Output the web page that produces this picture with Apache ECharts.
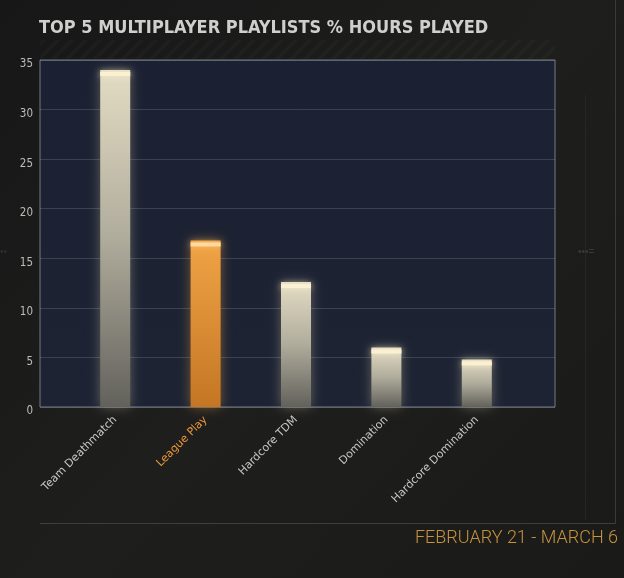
<!DOCTYPE html>
<html><head><meta charset="utf-8">
<script src="https://cdn.jsdelivr.net/npm/echarts@6/dist/echarts.min.js"></script>
<style>
html,body{margin:0;padding:0;background:#1b1b1b;}
#c{width:624px;height:578px;}
</style></head>
<body><div id="c"></div>
<script>
const titleText = 'TOP 5 MULTIPLAYER PLAYLISTS % HOURS PLAYED';
const dateText = 'FEBRUARY 21 - MARCH 6';
const categories = ['Team Deathmatch', 'League Play', 'Hardcore TDM', 'Domination', 'Hardcore Domination'];
const hoursPct = [34.0, 16.8, 12.6, 6.0, 4.8];
const highlighted = 'League Play';
const yTicks = { min: 0, max: 35, interval: 5 };

const chart = echarts.init(document.getElementById('c'), null, {renderer: 'canvas'});

// stripe pattern under title
const pc = document.createElement('canvas');
pc.width = 14; pc.height = 14;
const pctx = pc.getContext('2d');
pctx.strokeStyle = 'rgba(255,255,255,0.025)';
pctx.lineWidth = 4;
pctx.beginPath();
pctx.moveTo(0, 14); pctx.lineTo(14, 0);
pctx.moveTo(-7, 7); pctx.lineTo(7, -7);
pctx.moveTo(7, 21); pctx.lineTo(21, 7);
pctx.stroke();

const greyGrad = new echarts.graphic.LinearGradient(0, 0, 0, 1, [
  {offset: 0, color: '#e3dcc4'},
  {offset: 0.5, color: '#b0ac9c'},
  {offset: 1, color: '#62615b'}
]);
const orangeGrad = new echarts.graphic.LinearGradient(0, 0, 0, 1, [
  {offset: 0, color: '#f0a445'},
  {offset: 1, color: '#c47624'}
]);

const barData = hoursPct.map((v, i) => ({
  value: v,
  itemStyle: categories[i] === highlighted
    ? {color: orangeGrad, shadowColor: 'rgba(240,160,60,0.45)', shadowBlur: 12}
    : {color: greyGrad, shadowColor: 'rgba(230,220,180,0.35)', shadowBlur: 12}
}));
const capData = hoursPct.map((v, i) => ({
  value: v,
  itemStyle: categories[i] === highlighted
    ? {color: '#ffd9a0', shadowColor: 'rgba(255,200,120,0.8)', shadowBlur: 6}
    : {color: '#fbf1d2', shadowColor: 'rgba(255,240,200,0.8)', shadowBlur: 6}
}));

chart.setOption({
  backgroundColor: new echarts.graphic.LinearGradient(0, 0, 1, 1, [
    {offset: 0, color: '#171717'},
    {offset: 0.5, color: '#1e1e1d'},
    {offset: 1, color: '#1a1a19'}
  ]),
  animation: false,
  graphic: [
    {type: 'rect', shape: {x: 40, y: 40, width: 515, height: 19}, style: {fill: {image: pc, repeat: 'repeat'}}, z: 0},
    {type: 'text', left: 39, top: 19, style: {text: titleText, fill: '#cfcfcd', font: 'bold 18px "DejaVu Sans Condensed", "DejaVu Sans", sans-serif'}},
    {type: 'text', right: 6, top: 529, style: {text: dateText, fill: '#c8923e', font: '300 18px Roboto, "DejaVu Sans", sans-serif'}},
    {type: 'line', shape: {x1: 40, y1: 523.5, x2: 615.5, y2: 523.5}, style: {stroke: '#3e3e3e', lineWidth: 1}},
    {type: 'line', shape: {x1: 615.5, y1: 0, x2: 615.5, y2: 523.5}, style: {stroke: '#3a3a3a', lineWidth: 1}},
    {type: 'line', shape: {x1: 585.5, y1: 95, x2: 585.5, y2: 520}, style: {stroke: '#262626', lineWidth: 1}},
    {type: 'text', left: 578, top: 247, style: {text: '•••=', fill: '#3a3a3a', font: '10px sans-serif'}},
    {type: 'text', left: 0, top: 247, style: {text: '••', fill: '#2e2e2e', font: '10px sans-serif'}}
  ],
  grid: [
    {left: 40, top: 60, width: 515, height: 347, show: true, borderColor: '#777a82', borderWidth: 1,
     backgroundColor: new echarts.graphic.LinearGradient(0, 0, 0, 1, [
       {offset: 0, color: '#1b2132'}, {offset: 1, color: '#1d2333'}])},
    {left: 70, top: 60, width: 452, height: 347}
  ],
  xAxis: [
    {gridIndex: 0, type: 'value', show: false},
    {gridIndex: 1, type: 'category', data: categories,
     axisLine: {show: false}, axisTick: {show: false},
     axisLabel: {rotate: 45, margin: 11, fontSize: 11, fontFamily: '"DejaVu Sans", sans-serif',
       color: (val) => val === highlighted ? '#e8953a' : '#c6c6c4'}}
  ],
  yAxis: [
    {gridIndex: 0, type: 'value', min: yTicks.min, max: yTicks.max, interval: yTicks.interval,
     axisLine: {show: false}, axisTick: {show: false},
     axisLabel: {color: '#bdbdbb', fontSize: 11.5, margin: 7, verticalAlign: 'top', lineHeight: 9, fontFamily: '"DejaVu Sans Condensed", sans-serif'},
     splitLine: {lineStyle: {color: 'rgba(170,180,200,0.22)'}}},
    {gridIndex: 1, type: 'value', min: yTicks.min, max: yTicks.max, interval: yTicks.interval, show: false}
  ],
  series: [
    {type: 'bar', xAxisIndex: 1, yAxisIndex: 1, data: barData, barWidth: 30, z: 3},
    {type: 'pictorialBar', xAxisIndex: 1, yAxisIndex: 1, data: capData, symbol: 'rect',
     symbolSize: [30, 4], symbolPosition: 'end', symbolOffset: [0, '50%'], z: 4}
  ]
});
</script></body></html>
